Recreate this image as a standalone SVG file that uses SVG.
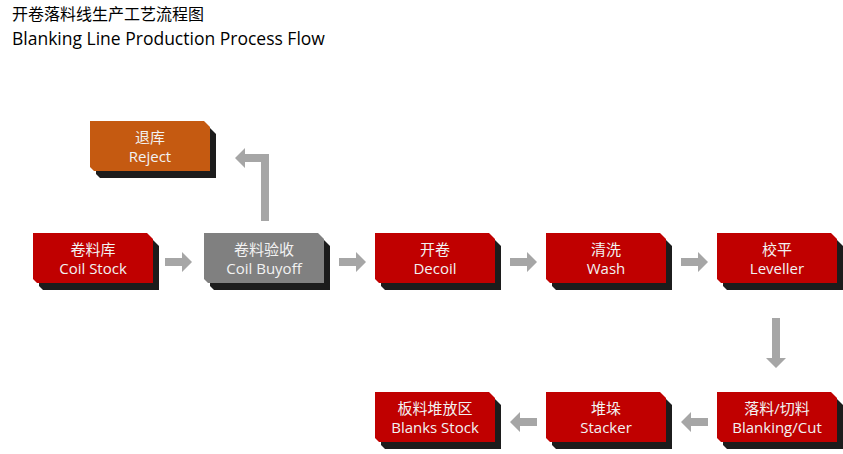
<svg xmlns="http://www.w3.org/2000/svg" width="843" height="454" viewBox="0 0 843 454">
<style>
text{font-family:"Open Sans","Noto Sans CJK SC",sans-serif}
.t{font-size:15px;fill:#f2f2f2;text-anchor:middle}
.sh{fill:#1c1c1c}
.red{fill:#c00000}.gray{fill:#808080}.org{fill:#c55a11}
.ar{fill:#a6a6a6}
</style>
<defs>
<path id="box" d="M0,0 H114 L120,6 V50 H4 L0,46 Z"/>
</defs>
<rect width="843" height="454" fill="#fff"/>
<text x="12" y="20" font-size="16" fill="#000">开卷落料线生产工艺流程图</text>
<text x="12" y="45" font-size="17.5" fill="#000">Blanking Line Production Process Flow</text>
<g id="connectors">
<path class="ar" d="M165,258 H182 V252 L192,262 L182,272 V266 H165 Z"/>
<path class="ar" d="M339,258 H356 V252 L366,262 L356,272 V266 H339 Z"/>
<path class="ar" d="M510,258 H527 V252 L537,262 L527,272 V266 H510 Z"/>
<path class="ar" d="M681,258 H698 V252 L708,262 L698,272 V266 H681 Z"/>
<path class="ar" d="M772,318 H780 V358 H786 L776,368 L766,358 H772 Z"/>
<path class="ar" d="M708,418 H691 V412 L681,422 L691,432 V426 H708 Z"/>
<path class="ar" d="M537,418 H520 V412 L510,422 L520,432 V426 H537 Z"/>
<path class="ar" d="M261,221 V162 H245 V168 L235,158 L245,148 V154 H269 V221 Z"/>
</g>
<g id="reject" transform="translate(90,121)"><use href="#box" class="sh" x="6" y="7"/><use href="#box" class="org"/><text class="t" x="60" y="22">退库</text><text class="t" x="60" y="41">Reject</text></g>
<g id="coilstock" transform="translate(33,233)"><use href="#box" class="sh" x="6" y="7"/><use href="#box" class="red"/><text class="t" x="60" y="22">卷料库</text><text class="t" x="60" y="41">Coil Stock</text></g>
<g id="coilbuyoff" transform="translate(204,233)"><use href="#box" class="sh" x="6" y="7"/><use href="#box" class="gray"/><text class="t" x="60" y="22">卷料验收</text><text class="t" x="60" y="41">Coil Buyoff</text></g>
<g id="decoil" transform="translate(375,233)"><use href="#box" class="sh" x="6" y="7"/><use href="#box" class="red"/><text class="t" x="60" y="22">开卷</text><text class="t" x="60" y="41">Decoil</text></g>
<g id="wash" transform="translate(546,233)"><use href="#box" class="sh" x="6" y="7"/><use href="#box" class="red"/><text class="t" x="60" y="22">清洗</text><text class="t" x="60" y="41">Wash</text></g>
<g id="leveller" transform="translate(717,233)"><use href="#box" class="sh" x="6" y="7"/><use href="#box" class="red"/><text class="t" x="60" y="22">校平</text><text class="t" x="60" y="41">Leveller</text></g>
<g id="blanking" transform="translate(717,392)"><use href="#box" class="sh" x="6" y="7"/><use href="#box" class="red"/><text class="t" x="60" y="22">落料/切料</text><text class="t" x="60" y="41">Blanking/Cut</text></g>
<g id="stacker" transform="translate(546,392)"><use href="#box" class="sh" x="6" y="7"/><use href="#box" class="red"/><text class="t" x="60" y="22">堆垛</text><text class="t" x="60" y="41">Stacker</text></g>
<g id="blanksstock" transform="translate(375,392)"><use href="#box" class="sh" x="6" y="7"/><use href="#box" class="red"/><text class="t" x="60" y="22">板料堆放区</text><text class="t" x="60" y="41">Blanks Stock</text></g>
</svg>
